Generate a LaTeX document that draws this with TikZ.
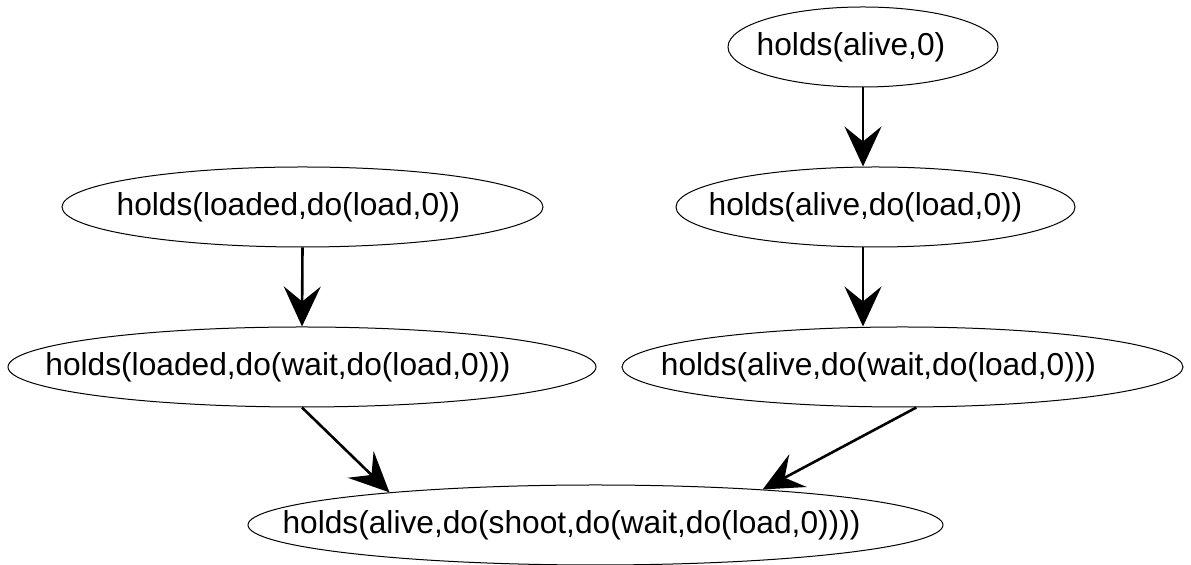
\documentclass[tikz,border=0pt]{standalone}
\usepackage{fontspec}
\setmainfont{Liberation Sans}
\usetikzlibrary{arrows.meta,shapes.geometric}
\tikzset{
    >={Stealth[length=20pt, width=18.5pt, inset=7.5pt]},
    fact/.style={
        ellipse,
        draw,
        line width=0.5pt,
        inner sep=0pt,
        minimum height=40pt
    },
    implies/.style={->, line width=1.3pt}
}
% text set a little left of the ellipse centre
\newcommand{\holds}[2][0pt]{\makebox[0pt]{#2\hspace*{#1}\hspace*{#1}}}

\begin{document}
\begin{tikzpicture}[x=0.5pt, y=-0.5pt, font=\fontsize{15.85pt}{19pt}\selectfont]

\useasboundingbox (0,0) rectangle (1191,565);

\node[fact, minimum width=135pt] (a0) at (863,47) {\holds[6pt]{holds(alive,0)}};

\node[fact, minimum width=240.5pt] (l1) at (302.5,207) {\holds[7pt]{holds(loaded,do(load,0))}};
\node[fact, minimum width=199.5pt] (a1) at (875.5,207) {\holds[5pt]{holds(alive,do(load,0))}};

\node[fact, minimum width=294pt] (l2) at (302,367) {\holds[12pt]{holds(loaded,do(wait,do(load,0)))}};
\node[fact, minimum width=280.5pt] (a2) at (902.5,367) {\holds[12pt]{holds(alive,do(wait,do(load,0)))}};

\node[fact, minimum width=347.5pt] (a3) at (595.5,525) {\holds[12pt]{holds(alive,do(shoot,do(wait,do(load,0))))}};

\path[implies]
    (a0.south) edge (a0.south |- a1.north)
    (a1.south -| a0.south) edge (a2.north -| a0.south)
    (l1.south) edge (l2.north)
    (l2.south) edge (a3.171.5)
    (a2.-71) edge (a3.12.7);

\end{tikzpicture}
\end{document}
